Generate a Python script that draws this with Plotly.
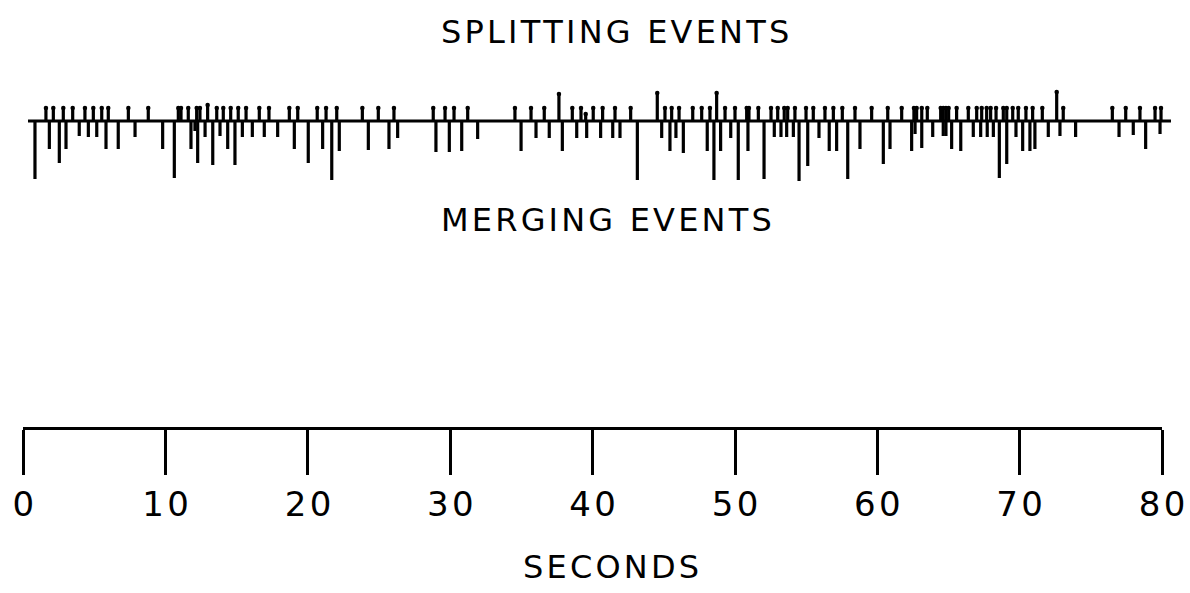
import plotly.graph_objects as go

# splitting events: time (s) and tick height (drawn upward)
split_t = [1.59, 2.11, 2.81, 3.47, 4.33, 4.92, 5.51, 5.97, 7.38, 8.78,
           10.89, 11.08, 11.59, 12.18, 12.41, 12.95, 13.59, 14.05, 14.57, 15.10,
           15.65, 16.58, 17.26, 18.69, 19.28, 20.65, 21.27, 22.02, 23.82, 24.94,
           26.04, 28.80, 29.63, 30.26, 31.22, 34.54, 35.67, 36.60, 37.63, 38.57,
           39.18, 39.51, 40.04, 40.70, 41.57, 42.67, 44.54, 45.08, 45.55, 46.07,
           47.03, 47.66, 48.24, 48.71, 49.30, 50.00, 50.82, 50.98, 51.64, 52.53,
           53.00, 53.46, 53.70, 54.21, 54.99, 55.50, 56.32, 56.91, 57.54, 58.43,
           59.60, 60.73, 61.71, 62.57, 62.76, 63.12, 63.51, 64.45, 64.63, 64.82,
           65.01, 65.57, 66.39, 66.98, 67.33, 67.68, 67.96, 68.34, 68.85, 69.09,
           69.51, 69.90, 70.44, 70.91, 71.59, 72.60, 73.06, 76.51, 77.45, 78.45,
           79.51, 79.93]
split_h = [13, 13, 13, 13, 13, 13, 13, 13, 13, 13,
           13, 13, 13, 13, 13, 16, 13, 13, 13, 13,
           13, 13, 13, 13, 13, 13, 13, 13, 13, 13,
           13, 13, 13, 13, 13, 13, 13, 13, 27, 13,
           13, 7, 13, 13, 13, 13, 28, 13, 13, 13,
           13, 13, 13, 28, 13, 13, 13, 13, 13, 13,
           13, 13, 13, 13, 13, 13, 13, 13, 13, 13,
           13, 13, 13, 13, 13, 13, 13, 13, 13, 13,
           13, 13, 13, 13, 13, 13, 13, 13, 13, 13,
           13, 13, 13, 13, 13, 29, 13, 13, 13, 13,
           13, 13]

# merging events: time (s) and tick depth (drawn downward)
merge_t = [0.82, 1.83, 2.53, 3.00, 3.93, 4.57, 5.16, 5.81, 6.67, 7.85,
           9.79, 10.61, 11.78, 12.06, 12.25, 12.77, 13.31, 13.82, 14.36, 14.87,
           15.39, 16.09, 16.93, 17.87, 19.04, 20.02, 21.03, 21.67, 22.20, 24.24,
           25.69, 26.30, 28.99, 29.93, 30.80, 31.92, 34.97, 36.02, 36.95, 37.87,
           38.88, 39.58, 40.56, 41.41, 41.92, 43.14, 44.85, 45.43, 45.85, 46.37,
           48.05, 48.52, 48.99, 49.70, 50.23, 50.91, 52.04, 52.76, 53.23, 53.63,
           54.10, 54.50, 55.11, 55.90, 56.62, 57.14, 57.92, 58.78, 60.42, 60.89,
           62.41, 62.65, 63.12, 63.89, 64.63, 64.82, 65.22, 65.86, 66.74, 67.26,
           67.72, 68.15, 68.57, 69.09, 69.74, 70.21, 70.72, 71.07, 72.01, 72.83,
           73.93, 76.98, 77.98, 78.85, 79.86]
merge_d = [58, 28, 42, 28, 15, 16, 16, 28, 28, 16,
           28, 57, 28, 10, 42, 16, 44, 15, 28, 44,
           16, 16, 16, 16, 28, 42, 28, 59, 30, 29,
           28, 17, 31, 31, 30, 18, 30, 17, 17, 30,
           17, 17, 17, 17, 17, 59, 17, 30, 17, 32,
           30, 59, 30, 17, 59, 30, 58, 16, 16, 16,
           16, 60, 45, 17, 30, 30, 58, 28, 43, 28,
           30, 13, 27, 16, 15, 15, 28, 30, 16, 16,
           16, 16, 57, 43, 16, 30, 30, 28, 16, 15,
           16, 16, 14, 28, 13]

line_start, line_end = 0.33, 80.63
time_ticks = [0, 10, 20, 30, 40, 50, 60, 70, 80]

W, H = 1190, 593
BASE_PX = 121          # event line, pixels from top
AXIS_PX = 427          # time scale line, pixels from top
PX_PER_S = 14.234
ZERO_PX = 23.3
FONT = "DejaVu Sans"
HAIR = "\u200a"
UP, DOWN = 40, 70      # room above / below the event line (y units = px)


def stems(ts, lens, sign):
    xs, ys = [], []
    for t, h in zip(ts, lens):
        xs += [t, t, None]
        ys += [0, sign * h, None]
    return xs, ys


def spaced(s):
    return HAIR.join(s)


fig = go.Figure()

# event panel (x / y)
fig.add_trace(go.Scatter(x=[line_start, line_end], y=[0, 0], mode="lines",
                         line=dict(color="black", width=3.2), hoverinfo="skip"))
sx, sy = stems(split_t, split_h, 1)
fig.add_trace(go.Scatter(x=sx, y=sy, mode="lines",
                         line=dict(color="black", width=3.2), name="splitting"))
fig.add_trace(go.Scatter(x=split_t, y=split_h, mode="markers", hoverinfo="skip",
                         marker=dict(color="black", size=4.5)))
mx, my = stems(merge_t, merge_d, -1)
fig.add_trace(go.Scatter(x=mx, y=my, mode="lines",
                         line=dict(color="black", width=3.2), name="merging"))

# time scale panel (x2 / y2)
fig.add_trace(go.Scatter(x=time_ticks, y=[0] * len(time_ticks), xaxis="x2", yaxis="y2",
                         mode="markers", marker=dict(opacity=0), hoverinfo="skip"))

x0 = -ZERO_PX / PX_PER_S
x1 = x0 + W / PX_PER_S
fig.update_layout(
    width=W, height=H,
    margin=dict(l=0, r=0, t=0, b=0),
    paper_bgcolor="white", plot_bgcolor="white",
    showlegend=False,
    xaxis=dict(domain=[0, 1], range=[x0, x1], visible=False, anchor="y"),
    yaxis=dict(domain=[(H - BASE_PX - DOWN) / H, (H - BASE_PX + UP) / H],
               range=[-DOWN, UP], visible=False, anchor="x"),
    xaxis2=dict(
        domain=[ZERO_PX / W, (ZERO_PX + 80 * PX_PER_S) / W],
        range=[0, 80], anchor="y2", automargin=False,
        tickvals=time_ticks, ticktext=[spaced(str(v)) for v in time_ticks],
        ticks="outside", ticklen=45, tickwidth=2.5,
        tickcolor="black", showline=True, linecolor="black", linewidth=3,
        showgrid=False, zeroline=False, side="bottom",
        tickfont=dict(family=FONT, size=34, color="black"),
    ),
    yaxis2=dict(domain=[(H - AXIS_PX) / H, (H - AXIS_PX + 20) / H],
                range=[-1, 1], visible=False, anchor="x2"),
)

for text, px, py in [("SPLITTING EVENTS", 615, 32),
                     ("MERGING EVENTS", 606, 220),
                     ("SECONDS", 611, 567)]:
    fig.add_annotation(text=spaced(text), x=px / W, y=1 - py / H,
                       xref="paper", yref="paper", showarrow=False,
                       xanchor="center", yanchor="middle",
                       font=dict(family=FONT, size=32, color="black"))

fig.write_html("out.html", config={"displayModeBar": False},
               post_script="document.body.style.margin='0';")
